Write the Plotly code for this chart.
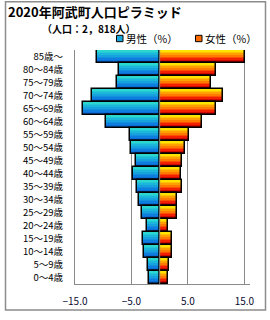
import plotly.graph_objects as go

ages = ["0～4歳", "5～9歳", "10～14歳", "15～19歳", "20～24歳", "25～29歳",
        "30～34歳", "35～39歳", "40～44歳", "45～49歳", "50～54歳", "55～59歳",
        "60～64歳", "65～69歳", "70～74歳", "75～79歳", "80～84歳", "85歳～"]
male = [1.9, 2.0, 2.75, 2.9, 2.2, 3.1, 3.6, 4.0, 4.7, 4.2, 5.1, 5.2,
        9.5, 13.5, 12.0, 7.6, 7.2, 11.1]
female = [1.4, 1.7, 2.1, 2.25, 1.5, 3.1, 3.1, 3.9, 3.7, 4.0, 4.5, 5.2,
          7.5, 10.0, 11.2, 9.1, 10.0, 15.2]
x_ticks = [-15, -5, 5, 15]

title = "2020年阿武町人口ピラミッド"
subtitle = "（人口：2，818人）"
male_name = "男性（%）"
female_name = "女性（%）"

# gradient stops, top -> bottom of each bar
male_cols = ["#2ad8d0", "#22c8d6", "#1cb6da", "#16a2dc", "#128fde", "#0e7ede", "#0b6ed8", "#0a64d2"]
female_cols = ["#ffe400", "#ffc400", "#ffa000", "#ff7a00", "#ff4e00", "#f02000", "#d00800", "#a80000"]

FONT = "Noto Sans CJK JP"
W, H = 270, 320
L, R, T, B = 75, 20, 50, 31
pw, ph = W - L - R, H - T - B


def px(xp):
    return (xp - L) / pw


def py(yp):
    return (H - B - yp) / ph


fig = go.Figure()
N = len(male_cols)
neg_male = [-v for v in male]
for k in range(N):
    # k=0 top stripe
    off = 0.5 - (k + 1) / N
    fig.add_trace(go.Bar(y=ages, x=neg_male, orientation="h", width=1 / N, offset=off,
                         marker=dict(color=male_cols[k], line=dict(width=0)),
                         showlegend=False, hoverinfo="skip"))
    fig.add_trace(go.Bar(y=ages, x=female, orientation="h", width=1 / N, offset=off,
                         marker=dict(color=female_cols[k], line=dict(width=0)),
                         showlegend=False, hoverinfo="skip"))
for vals in (neg_male, female):
    fig.add_trace(go.Bar(y=ages, x=vals, orientation="h", width=1, offset=-0.5,
                         marker=dict(color="rgba(0,0,0,0)", line=dict(color="#000", width=1.5)),
                         showlegend=False, hoverinfo="skip"))

shapes = [
    # zero line over bars
    dict(type="line", xref="x", yref="paper", x0=0, x1=0, y0=0, y1=1,
         line=dict(color="#8a8a8a", width=1), layer="above"),
    # outer frame
    dict(type="rect", xref="paper", yref="paper", x0=px(5.5), x1=px(265.5),
         y0=py(315.5), y1=py(0.8), line=dict(color="#8c8c8c", width=1.5)),
    # legend squares
    dict(type="rect", xref="paper", yref="paper", x0=px(116.5), x1=px(123),
         y0=py(41.5), y1=py(35), line=dict(color="#000", width=1), fillcolor="#1aa8dc"),
    dict(type="rect", xref="paper", yref="paper", x0=px(195.5), x1=px(202),
         y0=py(41.5), y1=py(35), line=dict(color="#000", width=1), fillcolor="#ff6a00"),
]

annotations = [
    dict(text="<b>" + title + "</b>", xref="paper", yref="paper", x=px(6), y=py(11),
         xanchor="left", yanchor="middle", showarrow=False,
         font=dict(family=FONT, size=13, color="#000")),
    dict(text="<b>" + subtitle + "</b>", xref="paper", yref="paper", x=px(40), y=py(28),
         xanchor="left", yanchor="middle", showarrow=False,
         font=dict(family=FONT, size=10, color="#000")),
    dict(text=male_name, xref="paper", yref="paper", x=px(124), y=py(38.5),
         xanchor="left", yanchor="middle", showarrow=False,
         font=dict(family=FONT, size=10.5, color="#000")),
    dict(text=female_name, xref="paper", yref="paper", x=px(203), y=py(38.5),
         xanchor="left", yanchor="middle", showarrow=False,
         font=dict(family=FONT, size=10.5, color="#000")),
]

fig.update_layout(
    width=W, height=H,
    margin=dict(l=L, r=R, t=T, b=B, pad=0),
    barmode="overlay", bargap=0,
    plot_bgcolor="white", paper_bgcolor="white",
    showlegend=False,
    shapes=shapes, annotations=annotations,
    xaxis=dict(range=[-15, 16], tickvals=x_ticks, tickformat=".1f",
               showgrid=True, gridcolor="#8a8a8a", gridwidth=1,
               zeroline=False, showline=True, linecolor="#8a8a8a", linewidth=1,
               ticks="", ticklabelstandoff=8,
               tickfont=dict(family=FONT, size=10, color="#0a0a30"), fixedrange=True),
    yaxis=dict(categoryorder="array", categoryarray=ages, showgrid=False,
               zeroline=False, showline=True, linecolor="#8a8a8a", linewidth=1,
               ticks="", ticklabelstandoff=9,
               tickfont=dict(family=FONT, size=9.5, color="#000"), fixedrange=True),
    font=dict(family=FONT),
)

fig.write_html("out.html", config=dict(displayModeBar=False))
